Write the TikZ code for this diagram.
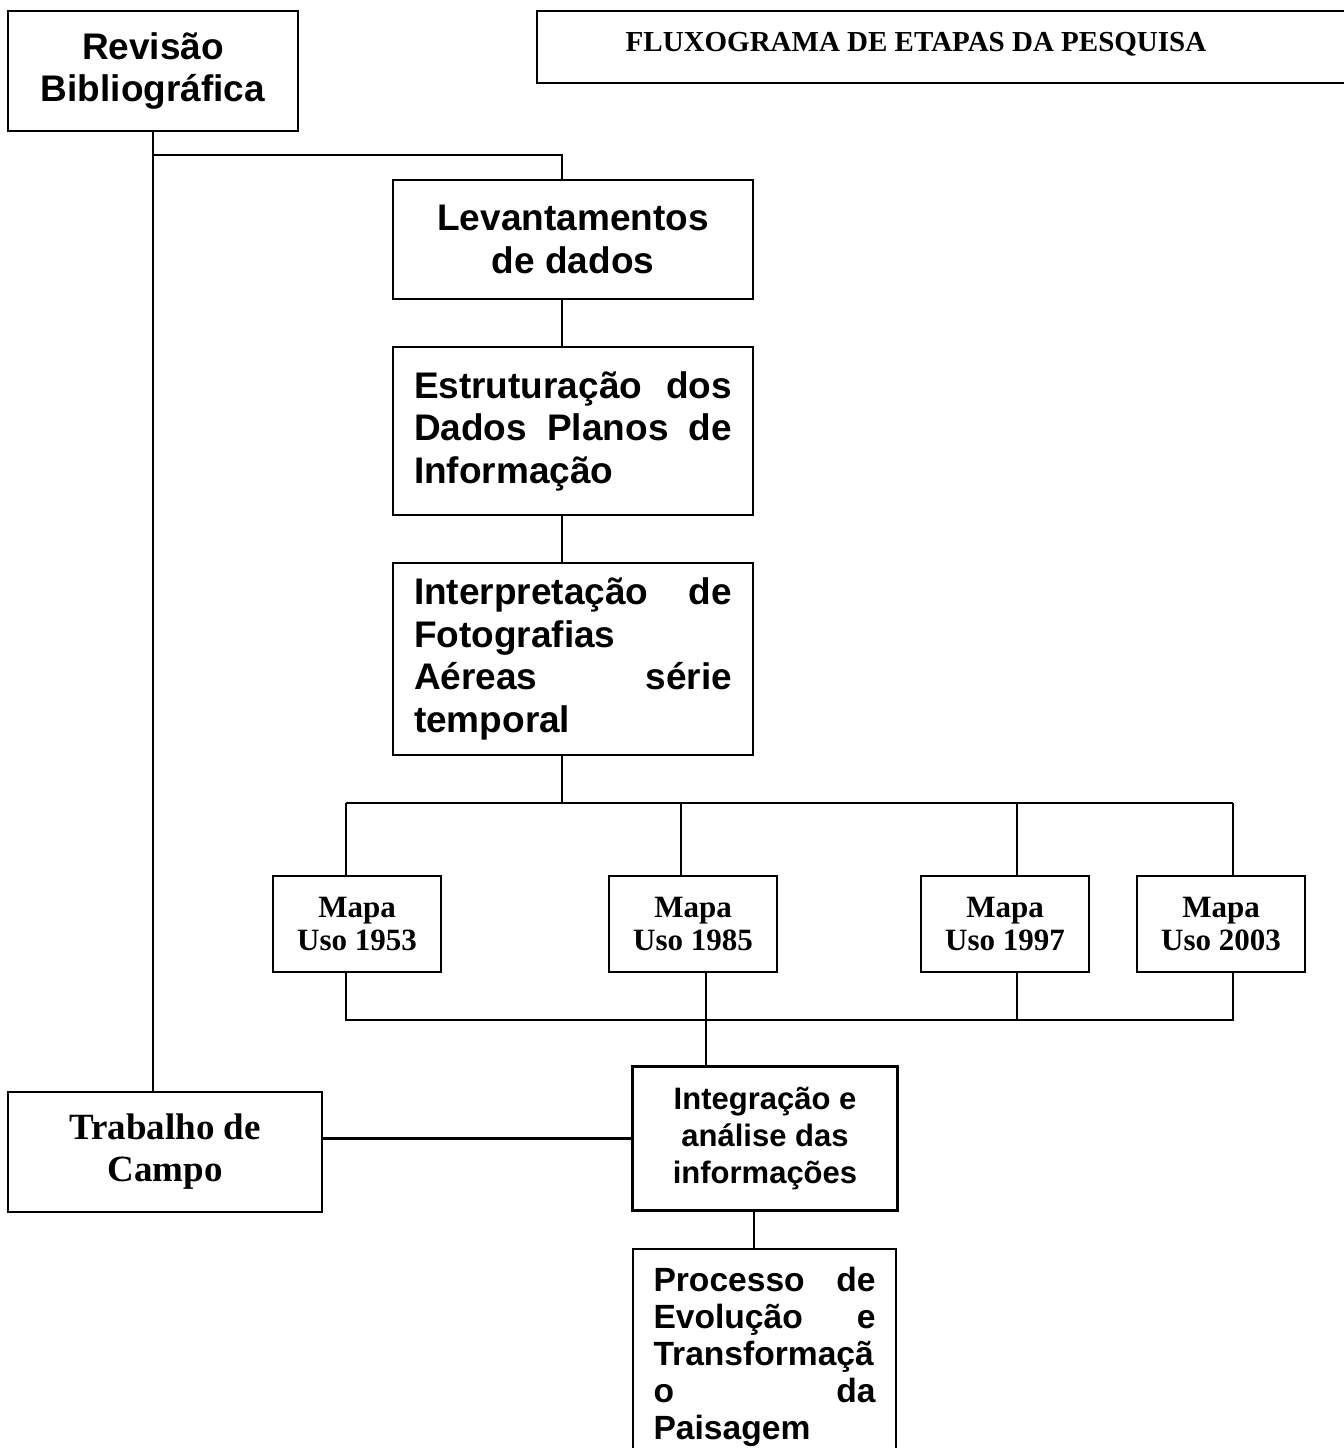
\documentclass[tikz,border=0pt]{standalone}
\usepackage{fontspec}
\setmainfont{Liberation Serif}
\newfontfamily\arialf{Liberation Sans}

\begin{document}
\begin{tikzpicture}[x=0.5pt,y=-0.5pt,line width=1.1pt,
  caixa/.style={draw,inner sep=0pt,align=center},
  grande/.style={font=\arialf\bfseries\fontsize{18.5}{21.25}\selectfont},
  media/.style={font=\arialf\bfseries\fontsize{16.8}{18.5}\selectfont},
  mapa/.style={caixa,minimum width=84pt,minimum height=48pt,
    font=\bfseries\fontsize{15.5}{16.5}\selectfont}]
\useasboundingbox (0,0) rectangle (1344,1448);

\node[caixa,grande,minimum width=145pt,minimum height=60pt] (rev) at (153,71) {Revisão\\Bibliográfica};
\draw (537,11) rectangle (1380,83);
\node[font=\bfseries\fontsize{14.5}{17}\selectfont] (titulo) at (916,44) {FLUXOGRAMA DE ETAPAS DA PESQUISA};

\node[caixa,grande,minimum width=180pt,minimum height=59.5pt] (lev) at (573,239.5) {Levantamentos\\de dados};
\node[caixa,grande,minimum width=180pt,minimum height=84pt,text width=159pt,align=left] (est) at (573,431)
  {Estruturação\hfill dos\\Dados\hfill Planos\hfill de\\Informação};
\node[caixa,grande,minimum width=180pt,minimum height=96pt,text width=159pt,align=left] (interp) at (573,659)
  {Interpretação\hfill de\\Fotografias\\Aéreas\hfill série\\temporal};

\foreach \n/\x/\ano in {1/357/1953,2/693/1985,3/1005/1997,4/1221/2003}
  \node[mapa] (m\n) at (\x,924) {Mapa\\Uso \ano};

\node[caixa,font=\bfseries\fontsize{18.5}{21}\selectfont,minimum width=157pt,minimum height=60pt] (trab) at (165,1152) {Trabalho de\\Campo};
\node[caixa,font=\arialf\bfseries\fontsize{15.5}{18.5}\selectfont,minimum width=132.5pt,minimum height=72pt] (integ) at (765,1138.5)
  {Integração e\\análise das\\informações};
\node[caixa,media,anchor=north,text width=111pt,align=left,inner xsep=10.25pt,inner ysep=9pt] (proc) at (764.5,1248)
  {Processo\hfill de\\Evolução\hfill e\\Transformaçã\\o\hfill da\\Paisagem\\[40pt]\mbox{}};

\coordinate (e1) at (562,155);
\draw (rev.south) -- (rev.south |- e1) -- (e1) -- (e1 |- lev.north);
\draw (rev.south) -- (rev.south |- trab.north);
\draw (e1 |- lev.south) -- (e1 |- est.north);
\draw (e1 |- est.south) -- (e1 |- interp.north);

\coordinate (t1) at (346,803);
\coordinate (t2) at (681,803);
\coordinate (t3) at (1017,803);
\coordinate (t4) at (1233,803);
\draw (e1 |- interp.south) -- (e1 |- t1);
\draw (t1) -- (t4);
\foreach \n in {1,...,4}
  \draw (t\n) -- (t\n |- m\n.north);

\coordinate (b1) at (346,1020);
\coordinate (b2) at (706,1020);
\coordinate (b3) at (1017,1020);
\coordinate (b4) at (1233,1020);
\draw (b1 |- m1.south) -- (b1) -- (b4) -- (b4 |- m4.south);
\draw (b3 |- m3.south) -- (b3);
\draw (b2 |- m2.south) -- (b2 |- integ.north);

\draw (integ.west) -- (integ.west -| trab.east);
\coordinate (c1) at (754,1230);
\draw (c1 |- integ.south) -- (c1 |- proc.north);
\end{tikzpicture}
\end{document}
